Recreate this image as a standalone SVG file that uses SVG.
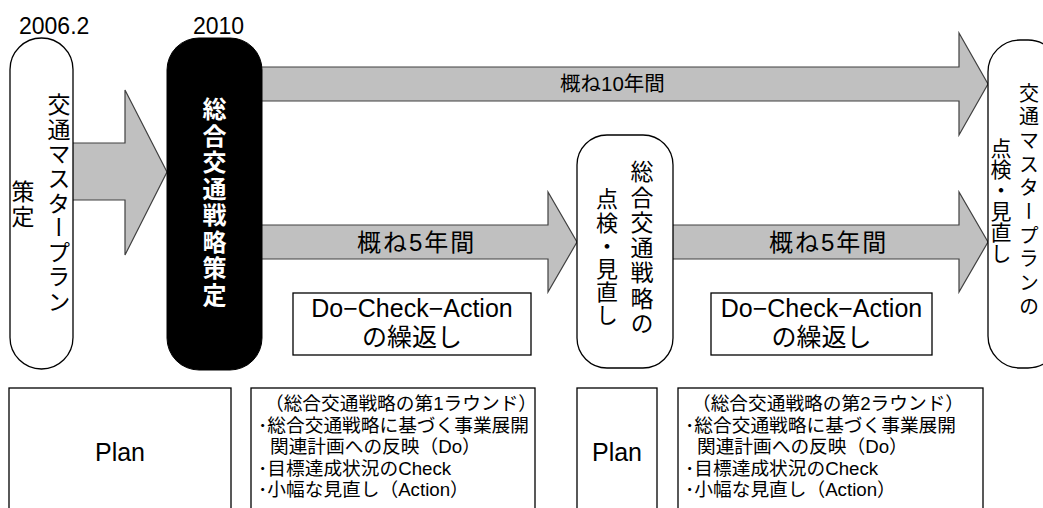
<svg xmlns="http://www.w3.org/2000/svg" width="1043" height="508" viewBox="0 0 1043 508">
<style>
.t{font-family:"Liberation Sans","Noto Sans CJK JP",sans-serif;fill:#000}
.v{font-family:"Noto Sans CJK JP",sans-serif;writing-mode:vertical-rl;fill:#000}
.arrow{fill:#c0c0c0;stroke:#404040;stroke-width:1.2;stroke-linejoin:miter}
.box{fill:#fff;stroke:#000;stroke-width:1.3}
.d{font-size:18.7px}
</style>
<rect width="1043" height="508" fill="#fff"/>
<g id="connectors">
<polygon class="arrow" points="60,143 125,143 125,90 167,172 125,255 125,200 60,200"/>
<polygon class="arrow" points="255,67 959,67 959,33 988,84 959,135 959,101 255,101"/>
<polygon class="arrow" points="255,225 548,225 548,192 577,242 548,292 548,259 255,259"/>
<polygon class="arrow" points="665,225 959,225 959,192 988,242 959,292 959,259 665,259"/>
<text class="t" x="560" y="91" font-size="20.5">概ね10年間</text>
<text class="t" x="357" y="251" font-size="24" letter-spacing="2">概ね5年間</text>
<text class="t" x="769" y="251" font-size="24" letter-spacing="2">概ね5年間</text>
</g>
<g id="label-2006">
<text class="t" x="19" y="34" font-size="23">2006.2</text>
</g>
<g id="label-2010">
<text class="t" x="193" y="34" font-size="23">2010</text>
</g>
<g id="node-masterplan">
<rect class="box" x="10" y="38" width="63" height="331" rx="31.5" ry="31.5"/>
<text class="v" x="59" y="93" font-size="23" letter-spacing="1.6">交通マスタープラン</text>
<text class="v" x="23" y="180" font-size="23" letter-spacing="2">策定</text>
</g>
<g id="node-strategy">
<rect x="167" y="38" width="95" height="332" rx="32" ry="32" fill="#000" stroke="#000"/>
<text class="v" x="214.5" y="97" font-size="24" font-weight="bold" letter-spacing="2.5" style="fill:#fff">総合交通戦略策定</text>
</g>
<g id="node-review-strategy">
<rect class="box" x="577" y="135" width="96" height="233" rx="30" ry="30"/>
<text class="v" x="642" y="160" font-size="23" letter-spacing="2.3">総合交通戦略の</text>
<text class="v" x="607" y="188" font-size="22" letter-spacing="1.2">点検・見直し</text>
</g>
<g id="node-review-masterplan">
<rect class="box" x="988" y="40" width="72" height="328" rx="32" ry="32"/>
<text class="v" x="1029" y="83" font-size="20" letter-spacing="3.7">交通マスタープランの</text>
<text class="v" x="1001" y="138" font-size="21" letter-spacing="0">点検・見直し</text>
</g>
<g id="node-dca1">
<rect class="box" x="293" y="293" width="238" height="62"/>
<text class="t" x="412" y="317" font-size="25" text-anchor="middle">Do−Check−Action</text>
<text class="t" x="412" y="346" font-size="25" text-anchor="middle">の繰返し</text>
</g>
<g id="node-dca2">
<rect class="box" x="711" y="293" width="221" height="62"/>
<text class="t" x="821.5" y="317" font-size="25" text-anchor="middle">Do−Check−Action</text>
<text class="t" x="821.5" y="346" font-size="25" text-anchor="middle">の繰返し</text>
</g>
<g id="node-plan1">
<rect class="box" x="9" y="388" width="222" height="130"/>
<text class="t" x="120" y="461" font-size="25" text-anchor="middle">Plan</text>
</g>
<g id="node-round1">
<rect class="box" x="251" y="388" width="284" height="130"/>
<text class="t d" x="265" y="410">（総合交通戦略の第1ラウンド）</text>
<text class="t d" x="258" y="432">･総合交通戦略に基づく事業展開</text>
<text class="t d" x="270" y="453">関連計画への反映（Do）</text>
<text class="t d" x="258" y="475">･目標達成状況のCheck</text>
<text class="t d" x="258" y="496">･小幅な見直し（Action）</text>
</g>
<g id="node-plan2">
<rect class="box" x="577" y="388" width="80" height="130"/>
<text class="t" x="617" y="461" font-size="25" text-anchor="middle">Plan</text>
</g>
<g id="node-round2">
<rect class="box" x="678" y="388" width="305" height="130"/>
<text class="t d" x="692" y="410">（総合交通戦略の第2ラウンド）</text>
<text class="t d" x="685" y="432">･総合交通戦略に基づく事業展開</text>
<text class="t d" x="697" y="453">関連計画への反映（Do）</text>
<text class="t d" x="685" y="475">･目標達成状況のCheck</text>
<text class="t d" x="685" y="496">･小幅な見直し（Action）</text>
</g>
</svg>
